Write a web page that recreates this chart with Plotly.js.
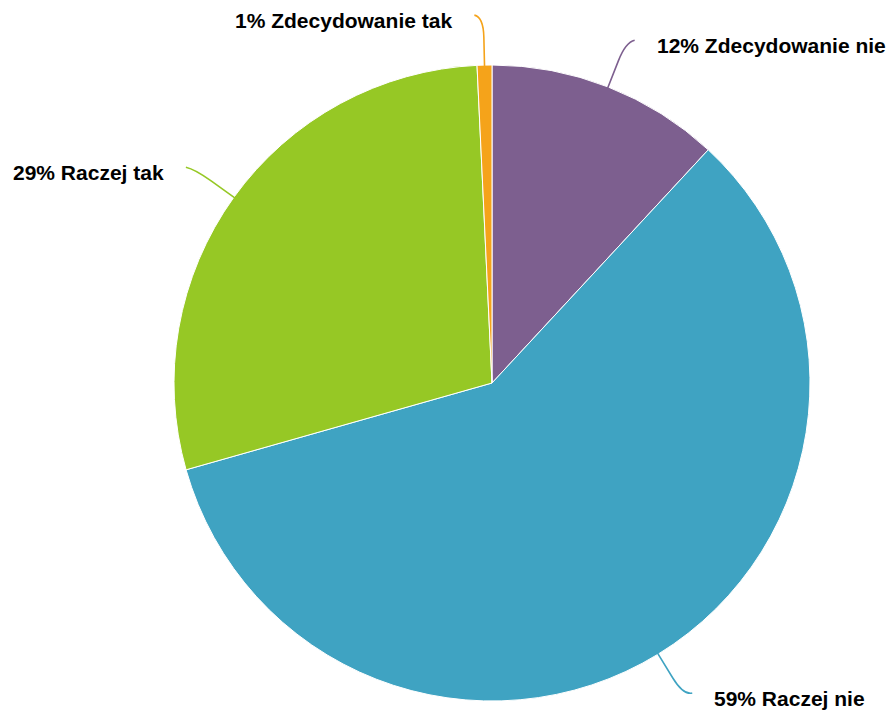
<!DOCTYPE html>
<html>
<head>
<meta charset="utf-8">
<script src="https://cdn.plot.ly/plotly-3.0.1.min.js"></script>
<style>html,body{margin:0;padding:0;background:#fff}</style>
</head>
<body>
<div id="chart" style="width:890px;height:710px"></div>
<script>
const labels = ["Zdecydowanie nie", "Raczej nie", "Raczej tak", "Zdecydowanie tak"];
const values = [11.9, 58.7, 28.65, 0.75];
const percentLabels = ["12%", "59%", "29%", "1%"];
const colors = ["#7d5f8f", "#3fa3c2", "#96c825", "#f5a31a"];

const W = 890, H = 710;
const cx = 492, cy = 383, R = 318;

const total = values.reduce((a, b) => a + b, 0);
const shapes = [];
const annotations = [];
let cum = 0;
const px = x => x / W;
const py = y => 1 - y / H;
values.forEach((v, i) => {
  const mid = (cum + v / 2) / total * 2 * Math.PI;
  cum += v;
  const s = Math.sin(mid), c = Math.cos(mid);
  const pt = r => [cx + r * s, cy - r * c];
  const p0 = pt(R - 2), pa = pt(346), pc = pt(366);
  const dir = s >= 0 ? 1 : -1;
  const p2 = [pc[0] + dir * 9, pc[1] - 2];
  shapes.push({
    type: "path", xref: "paper", yref: "paper",
    path: `M ${px(p0[0])},${py(p0[1])} L ${px(pa[0])},${py(pa[1])} Q ${px(pc[0])},${py(pc[1])} ${px(p2[0])},${py(p2[1])}`,
    line: {color: colors[i], width: 1.6}
  });
  annotations.push({
    xref: "paper", yref: "paper",
    x: px(p2[0] + dir * 20), y: py(p2[1] + 5),
    xanchor: dir > 0 ? "left" : "right", yanchor: "middle",
    text: "<b>" + percentLabels[i] + " " + labels[i] + "</b>",
    showarrow: false,
    font: {family: "Liberation Sans, Arial, sans-serif", size: 21, color: "#000"}
  });
});

const data = [{
  type: "pie",
  labels: labels,
  values: values,
  sort: false,
  direction: "clockwise",
  rotation: 0,
  textinfo: "none",
  hoverinfo: "label+percent",
  marker: {colors: colors, line: {color: "#ffffff", width: 1}},
  domain: {x: [(cx - R) / W, (cx + R) / W], y: [(H - cy - R) / H, (H - cy + R) / H]},
  showlegend: false
}];

const layout = {
  width: W, height: H,
  margin: {l: 0, r: 0, t: 0, b: 0},
  paper_bgcolor: "#ffffff",
  showlegend: false,
  shapes: shapes,
  annotations: annotations
};

Plotly.newPlot("chart", data, layout, {displayModeBar: false, staticPlot: true});
</script>
</body>
</html>
